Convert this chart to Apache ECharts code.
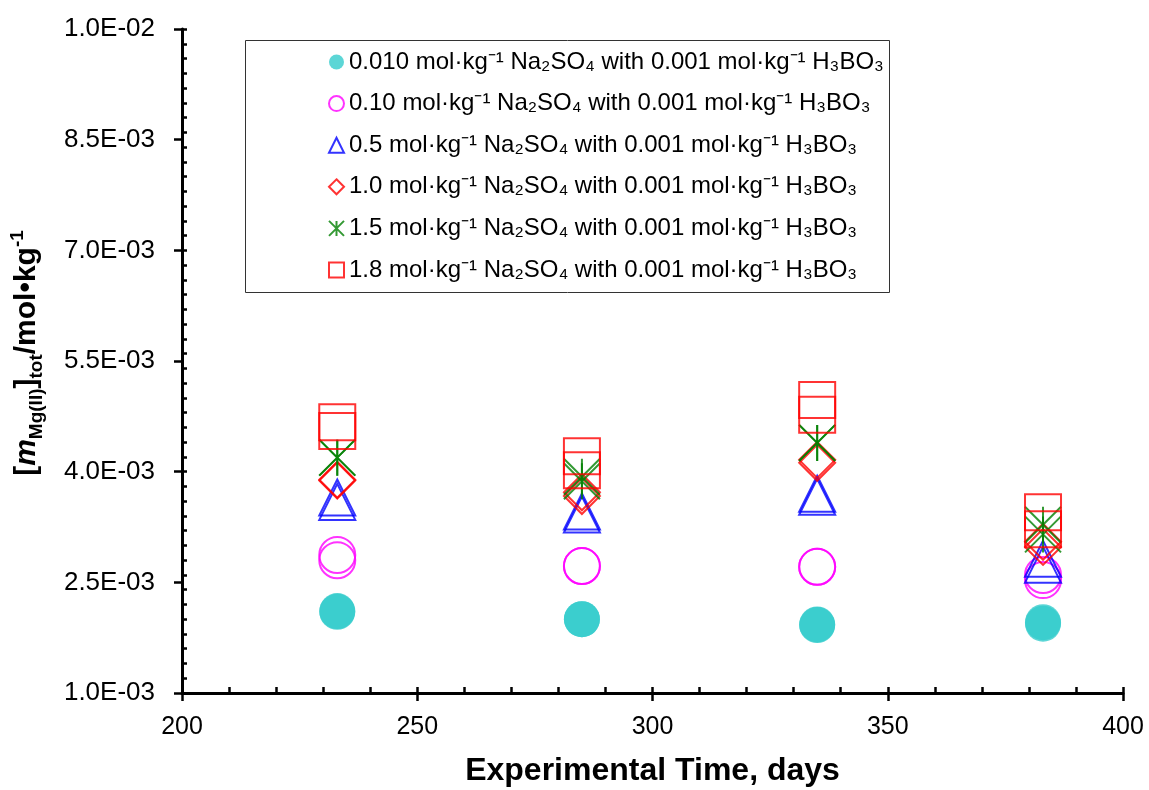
<!DOCTYPE html>
<html>
<head>
<meta charset="utf-8">
<title>Mg(II) vs time</title>
<script src="https://cdn.jsdelivr.net/npm/echarts@6/dist/echarts.min.js"></script>
<style>
  html, body { margin: 0; padding: 0; background: #fff; }
  #chart { width: 1149px; height: 790px; }
</style>
</head>
<body>
<div id="chart"></div>
<script>
// experiment times (two replicate points per sampling day)
const days = [233, 233, 285, 285, 335, 335, 383, 383];

// [Mg(II)]tot, mol/kg, one array per Na2SO4 solution
const na0010 = [2.11e-3, 2.10e-3, 2.00e-3, 2.00e-3, 1.93e-3, 1.92e-3, 1.96e-3, 1.94e-3];
const na010  = [2.87e-3, 2.80e-3, 2.72e-3, 2.72e-3, 2.71e-3, 2.71e-3, 2.60e-3, 2.53e-3];
const na05   = [3.65e-3, 3.59e-3, 3.46e-3, 3.42e-3, 3.70e-3, 3.66e-3, 2.82e-3, 2.74e-3];
const na10   = [3.89e-3, 3.88e-3, 3.72e-3, 3.67e-3, 4.16e-3, 4.12e-3, 3.05e-3, 2.98e-3];
const na15   = [4.19e-3, 4.19e-3, 3.93e-3, 3.87e-3, 4.39e-3, 4.39e-3, 3.28e-3, 3.15e-3];
const na18   = [4.67e-3, 4.55e-3, 4.21e-3, 4.02e-3, 4.97e-3, 4.77e-3, 3.45e-3, 3.22e-3];

const seriesNames = [
  '0.010 mol·kg⁻¹ Na₂SO₄ with 0.001 mol·kg⁻¹ H₃BO₃',
  '0.10 mol·kg⁻¹ Na₂SO₄ with 0.001 mol·kg⁻¹ H₃BO₃',
  '0.5 mol·kg⁻¹ Na₂SO₄ with 0.001 mol·kg⁻¹ H₃BO₃',
  '1.0 mol·kg⁻¹ Na₂SO₄ with 0.001 mol·kg⁻¹ H₃BO₃',
  '1.5 mol·kg⁻¹ Na₂SO₄ with 0.001 mol·kg⁻¹ H₃BO₃',
  '1.8 mol·kg⁻¹ Na₂SO₄ with 0.001 mol·kg⁻¹ H₃BO₃'
];

const FONT = 'Liberation Sans, Arial, sans-serif';
const starPath = 'path://M0,0L20,20M20,0L0,20M10,0L10,20';

function pts(ys) {
  return ys.map((y, i) => [days[i], y]);
}

// 1.0E-03 style labels
function sci(v) {
  const parts = v.toExponential(1).split('e');
  const e = parseInt(parts[1], 10);
  return parts[0] + 'E' + (e < 0 ? '-' : '+') + String(Math.abs(e)).padStart(2, '0');
}

function scatter(name, ys, symbol, color, filled) {
  return {
    name: name,
    type: 'scatter',
    symbol: symbol,
    symbolSize: 36,
    data: pts(ys),
    itemStyle: filled
      ? { color: color }
      : { color: 'rgba(255,255,255,0)', borderColor: color, borderWidth: 2 }
  };
}

let myChart = echarts.init(document.getElementById('chart'));

myChart.setOption({
  animation: false,
  backgroundColor: '#fff',
  grid: { left: 182, right: 26, top: 29, bottom: 97, containLabel: false, outerBoundsMode: 'none' },
  legend: {
    orient: 'vertical',
    left: 328,
    top: 50,
    padding: 0,
    itemWidth: 15,
    itemHeight: 15,
    itemGap: 17.6,
    textStyle: { fontFamily: FONT, fontSize: 24, color: '#000', lineHeight: 24 },
    data: seriesNames
  },
  graphic: [{
    type: 'rect',
    shape: { x: 245.5, y: 40.5, width: 644, height: 252 },
    style: { fill: 'none', stroke: '#333', lineWidth: 1 },
    z: 1
  }],
  xAxis: [
    {
      type: 'value',
      min: 200,
      max: 400,
      interval: 50,
      name: 'Experimental Time, days',
      nameLocation: 'middle',
      nameGap: 62,
      nameTextStyle: { fontFamily: FONT, fontSize: 32, fontWeight: 'bold', color: '#000' },
      axisLine: { lineStyle: { color: '#000', width: 3 } },
      axisTick: { inside: false, length: 8, lineStyle: { color: '#000', width: 2.5 } },
      axisLabel: { fontFamily: FONT, fontSize: 25, color: '#000', margin: 22 },
      splitLine: { show: false }
    },
    {
      // minor ticks, inside
      type: 'value',
      position: 'bottom',
      min: 200,
      max: 400,
      interval: 10,
      axisLine: { show: false },
      axisTick: { inside: true, length: 6, lineStyle: { color: '#000', width: 2.5 } },
      axisLabel: { show: false },
      splitLine: { show: false }
    }
  ],
  yAxis: [
    {
      type: 'value',
      min: 0.001,
      max: 0.01,
      interval: 0.0015,
      name: '{b|[}{i|m}{sub|Mg(II)}{b|]}{sub|tot}{b|/mol•kg}{sup|-1}',
      nameLocation: 'middle',
      nameGap: 136,
      nameTextStyle: {
        padding: [0, 0, 0, 16],
        rich: {
          b:   { fontFamily: FONT, fontSize: 30, fontWeight: 'bold', color: '#000', lineHeight: 38 },
          i:   { fontFamily: FONT, fontSize: 30, fontWeight: 'bold', fontStyle: 'italic', color: '#000', lineHeight: 38 },
          sub: { fontFamily: FONT, fontSize: 19, fontWeight: 'bold', color: '#000', lineHeight: 19, verticalAlign: 'bottom' },
          sup: { fontFamily: FONT, fontSize: 19, fontWeight: 'bold', color: '#000', lineHeight: 19, verticalAlign: 'top' }
        }
      },
      axisLine: { show: true, lineStyle: { color: '#000', width: 3 } },
      axisTick: { show: true, inside: false, length: 8, lineStyle: { color: '#000', width: 2.5 } },
      axisLabel: { fontFamily: FONT, fontSize: 26, color: '#000', margin: 27, formatter: sci },
      splitLine: { show: false }
    },
    {
      type: 'value',
      position: 'left',
      min: 0.001,
      max: 0.01,
      interval: 0.0002,
      axisLine: { show: false },
      axisTick: { show: true, inside: true, length: 5, lineStyle: { color: '#000', width: 2.5 } },
      axisLabel: { show: false },
      splitLine: { show: false }
    }
  ],
  series: [
    scatter(seriesNames[0], na0010, 'circle', '#33CCCC', true),
    scatter(seriesNames[1], na010, 'circle', '#FF00FF', false),
    scatter(seriesNames[2], na05, 'triangle', '#0000FF', false),
    scatter(seriesNames[3], na10, 'diamond', '#FF0000', false),
    scatter(seriesNames[4], na15, starPath, '#008000', false),
    scatter(seriesNames[5], na18, 'rect', '#FF0000', false)
  ]
});
</script>
</body>
</html>
